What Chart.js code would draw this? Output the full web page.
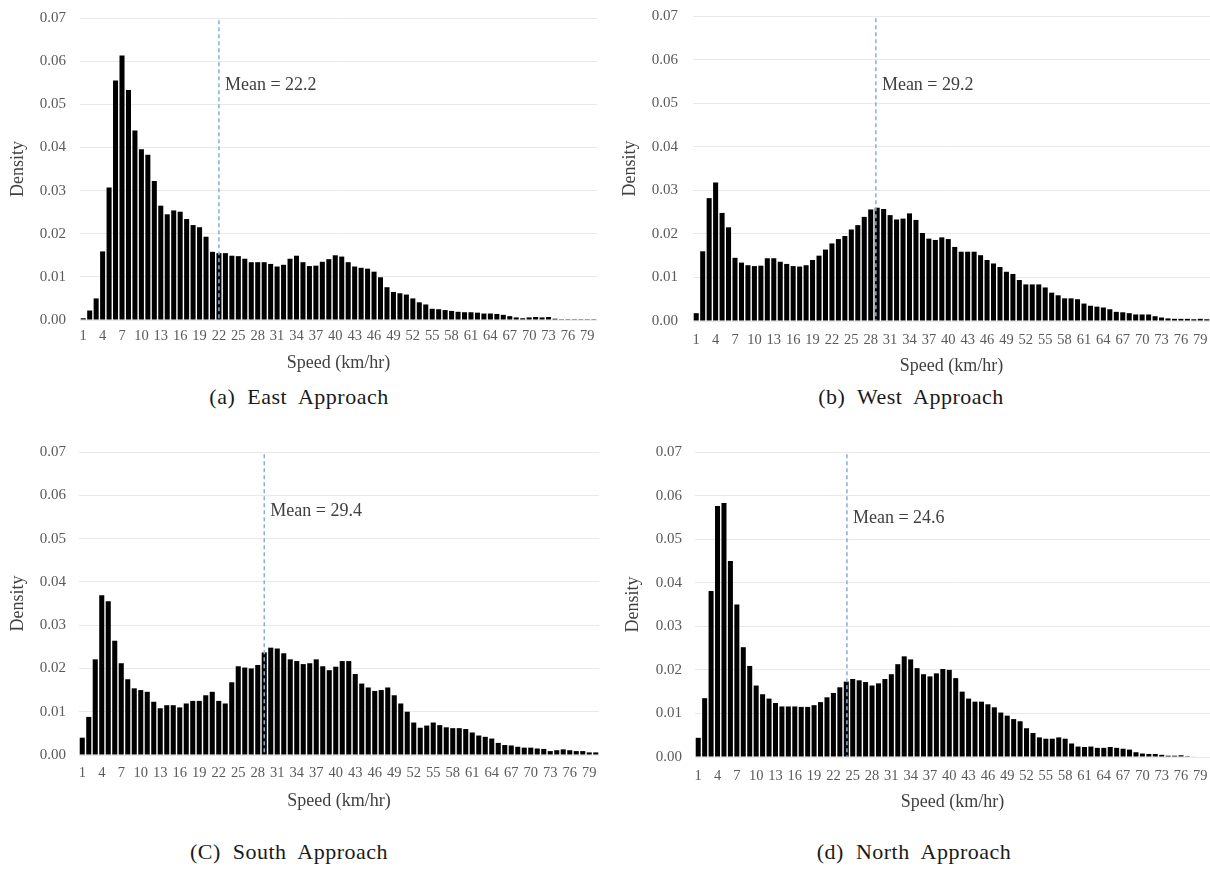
<!DOCTYPE html>
<html lang="en">
<head>
  <meta charset="UTF-8">
  <title>Speed distribution by approach</title>
  <script src="https://cdn.jsdelivr.net/npm/chart.js"></script>
  <style>
    body {
      margin: 0;
      background: #fff;
      width: 1210px;
      height: 870px;
      position: relative;
      overflow: hidden;
      font-family: "Liberation Serif", serif;
    }
    canvas { position: absolute; }
    .caption {
      position: absolute;
      font-family: "Liberation Serif", serif;
      font-size: 22px;
      letter-spacing: 0.5px;
      color: #1a1a1a;
      white-space: pre;
      transform: translate(-50%, -50%);
    }
  </style>
</head>
<body>

  <canvas id="east" width="600" height="380" style="left:0;top:0"></canvas>
  <canvas id="west" width="600" height="380" style="left:610px;top:0"></canvas>
  <canvas id="south" width="610" height="380" style="left:0;top:435px"></canvas>
  <canvas id="north" width="600" height="380" style="left:610px;top:435px"></canvas>

  <div class="caption" style="left:299px;top:397px">(a)  East  Approach</div>
  <div class="caption" style="left:911px;top:397px">(b)  West  Approach</div>
  <div class="caption" style="left:289px;top:852px">(C)  South  Approach</div>
  <div class="caption" style="left:914px;top:852px">(d)  North  Approach</div>

  <script>
    // speed bins (km/hr)
    const speeds = [1,2,3,4,5,6,7,8,9,10,11,12,13,14,15,16,17,18,19,20,
      21,22,23,24,25,26,27,28,29,30,31,32,33,34,35,36,37,38,39,40,
      41,42,43,44,45,46,47,48,49,50,51,52,53,54,55,56,57,58,59,60,
      61,62,63,64,65,66,67,68,69,70,71,72,73,74,75,76,77,78,79,80];
    const tickLabels = [1,4,7,10,13,16,19,22,25,28,31,34,37,40,43,46,49,52,55,58,61,64,67,70,73,76,79];
    const yTicks = [0, 0.01, 0.02, 0.03, 0.04, 0.05, 0.06, 0.07];

    const eastDensity = [0.0004,0.0022,0.0050,0.0159,0.0307,0.0555,0.0613,0.0533,0.0439,0.0396,
      0.0383,0.0322,0.0265,0.0245,0.0254,0.0251,0.0234,0.0220,0.0215,0.0193,
      0.0158,0.0155,0.0155,0.0149,0.0148,0.0142,0.0134,0.0134,0.0134,0.0130,
      0.0124,0.0128,0.0142,0.0149,0.0134,0.0125,0.0126,0.0135,0.0141,0.0150,
      0.0147,0.0134,0.0124,0.0121,0.0119,0.0112,0.0099,0.0076,0.0065,0.0062,
      0.0059,0.0050,0.0041,0.0036,0.0026,0.0025,0.0023,0.0021,0.0019,0.0018,
      0.0018,0.0017,0.0015,0.0015,0.0014,0.0012,0.0009,0.0006,0.0004,0.0006,
      0.0007,0.0006,0.0007,0.0003,0.0002,0.0002,0.0002,0.0002,0.0002,0.0002];

    const westDensity = [0.0018,0.0160,0.0282,0.0318,0.0248,0.0215,0.0145,0.0134,0.0128,0.0126,
      0.0127,0.0144,0.0144,0.0136,0.0131,0.0126,0.0125,0.0128,0.0140,0.0150,
      0.0164,0.0178,0.0188,0.0195,0.0210,0.0220,0.0239,0.0256,0.0260,0.0257,
      0.0243,0.0233,0.0235,0.0247,0.0232,0.0202,0.0189,0.0186,0.0192,0.0188,
      0.0170,0.0159,0.0159,0.0159,0.0151,0.0140,0.0132,0.0124,0.0113,0.0108,
      0.0094,0.0084,0.0084,0.0084,0.0077,0.0065,0.0059,0.0052,0.0052,0.0050,
      0.0040,0.0035,0.0033,0.0031,0.0027,0.0021,0.0020,0.0018,0.0015,0.0015,
      0.0015,0.0011,0.0008,0.0006,0.0005,0.0005,0.0005,0.0004,0.0005,0.0004];

    const southDensity = [0.0040,0.0088,0.0221,0.0369,0.0355,0.0264,0.0212,0.0175,0.0154,0.0150,
      0.0146,0.0123,0.0108,0.0115,0.0115,0.0110,0.0119,0.0125,0.0125,0.0138,
      0.0146,0.0125,0.0119,0.0168,0.0205,0.0202,0.0200,0.0208,0.0237,0.0248,
      0.0246,0.0235,0.0221,0.0217,0.0210,0.0212,0.0221,0.0205,0.0196,0.0204,
      0.0217,0.0217,0.0187,0.0165,0.0156,0.0148,0.0150,0.0156,0.0138,0.0119,
      0.0100,0.0075,0.0063,0.0068,0.0075,0.0069,0.0064,0.0062,0.0062,0.0060,
      0.0052,0.0045,0.0042,0.0038,0.0028,0.0023,0.0022,0.0019,0.0017,0.0017,
      0.0015,0.0014,0.0009,0.0011,0.0013,0.0011,0.0009,0.0009,0.0006,0.0006];

    const northDensity = [0.0044,0.0135,0.0381,0.0576,0.0583,0.0450,0.0350,0.0252,0.0209,0.0164,
      0.0144,0.0134,0.0124,0.0116,0.0116,0.0116,0.0115,0.0115,0.0119,0.0126,
      0.0137,0.0147,0.0160,0.0173,0.0179,0.0176,0.0172,0.0164,0.0169,0.0179,
      0.0190,0.0213,0.0231,0.0224,0.0204,0.0190,0.0185,0.0192,0.0202,0.0200,
      0.0181,0.0150,0.0134,0.0127,0.0127,0.0121,0.0114,0.0102,0.0095,0.0087,
      0.0082,0.0066,0.0055,0.0045,0.0042,0.0042,0.0045,0.0042,0.0031,0.0024,
      0.0023,0.0024,0.0021,0.0021,0.0023,0.0021,0.0019,0.0017,0.0011,0.0008,
      0.0007,0.0007,0.0005,0.0003,0.0003,0.0004,0.0002,0.0001,0,0];

    const meanSpeeds = [22.2, 29.2, 29.4, 24.6];
    // where the dashed mean line sits on the speed axis in the picture
    const meanLineAt = [22, 28.8, 29, 24.1];

    // dashed mean line + its label
    const meanLine = {
      id: 'meanLine',
      afterDatasetsDraw(chart, args, opts) {
        const {ctx, scales: {x, y}} = chart;
        const px = x.getPixelForValue(opts.at - 1);
        ctx.save();
        ctx.strokeStyle = '#86aedb';
        ctx.lineWidth = 1.5;
        ctx.setLineDash([4, 3]);
        ctx.beginPath();
        ctx.moveTo(px, y.getPixelForValue(0.0695));
        ctx.lineTo(px, y.getPixelForValue(0));
        ctx.stroke();
        ctx.setLineDash([]);
        ctx.fillStyle = '#404040';
        ctx.font = '18px "Liberation Serif"';
        ctx.textBaseline = 'middle';
        ctx.fillText('Mean = ' + opts.mean.toFixed(1), px + 6, y.getPixelForValue(opts.labelAt));
        ctx.restore();
      }
    };

    const panels = [
      {id: 'east',  values: eastDensity,  k: 0, padTop: 18, padRight: 3,  yw: 80, xh: 60, xtl: 5, ytl: 12, yTitlePad: 7,  xTitlePad: 6, labelAt: 0.0545},
      {id: 'west',  values: westDensity,  k: 1, padTop: 16, padRight: 0,  yw: 83, xh: 59, xtl: 8, ytl: 13, yTitlePad: 9,  xTitlePad: 3, labelAt: 0.0540},
      {id: 'south', values: southDensity, k: 2, padTop: 17, padRight: 11, yw: 79, xh: 60, xtl: 7, ytl: 11, yTitlePad: 7,  xTitlePad: 3, labelAt: 0.0563},
      {id: 'north', values: northDensity, k: 3, padTop: 17, padRight: 0,  yw: 85, xh: 58, xtl: 8, ytl: 11, yTitlePad: 12, xTitlePad: 2, labelAt: 0.0547}
    ];

    panels.forEach(p => {
      new Chart(document.getElementById(p.id), {
        type: 'bar',
        data: {
          labels: speeds,
          datasets: [{
            data: p.values,
            backgroundColor: '#000',
            barPercentage: 0.78,
            categoryPercentage: 1
          }]
        },
        plugins: [meanLine],
        options: {
          responsive: false,
          animation: false,
          layout: { padding: { top: p.padTop, right: p.padRight, bottom: 0, left: 0 } },
          plugins: {
            legend: { display: false },
            tooltip: { enabled: false },
            meanLine: { at: meanLineAt[p.k], mean: meanSpeeds[p.k], labelAt: p.labelAt }
          },
          scales: {
            x: {
              offset: true,
              afterFit: s => { s.height = p.xh; },
              grid: { display: true, drawOnChartArea: false, drawTicks: true, tickLength: p.xtl, tickColor: 'rgba(0,0,0,0)', color: 'rgba(0,0,0,0)' },
              border: { display: false },
              ticks: {
                autoSkip: false,
                maxRotation: 0,
                minRotation: 0,
                padding: 2,
                color: '#595959',
                font: { family: 'Liberation Serif', size: 14.5 },
                callback: (v, i) => tickLabels.includes(speeds[i]) ? String(speeds[i]) : ''
              },
              title: {
                display: true,
                text: 'Speed (km/hr)',
                color: '#404040',
                font: { family: 'Liberation Serif', size: 18 },
                padding: { top: 0, bottom: p.xTitlePad }
              }
            },
            y: {
              min: yTicks[0],
              max: yTicks[yTicks.length - 1],
              afterFit: s => { s.width = p.yw; },
              afterBuildTicks: s => { s.ticks = yTicks.map(v => ({ value: v })); },
              grid: { color: '#e9e9e9', drawTicks: true, tickLength: p.ytl, tickColor: 'rgba(0,0,0,0)' },
              border: { display: false },
              ticks: {
                padding: 2,
                color: '#595959',
                font: { family: 'Liberation Serif', size: 15 },
                callback: v => v.toFixed(2)
              },
              title: {
                display: true,
                text: 'Density',
                color: '#404040',
                font: { family: 'Liberation Serif', size: 18 },
                padding: { top: p.yTitlePad, bottom: 0 }
              }
            }
          }
        }
      });
    });
  </script>

</body>
</html>
